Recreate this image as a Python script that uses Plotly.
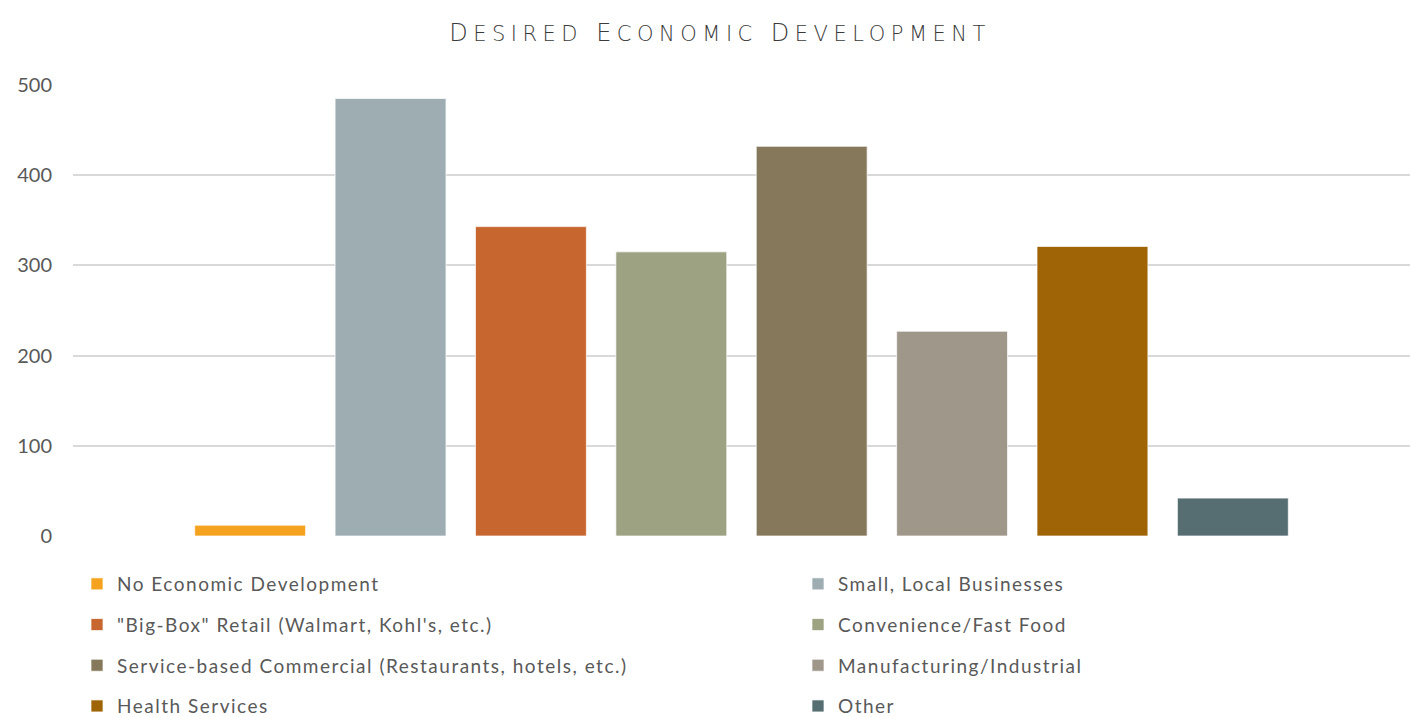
import plotly.graph_objects as go

# Survey responses: desired kinds of economic development
categories = [
    "No Economic Development",
    "Small, Local Businesses",
    "\"Big-Box\" Retail (Walmart, Kohl's, etc.)",
    "Convenience/Fast Food",
    "Service-based Commercial (Restaurants, hotels, etc.)",
    "Manufacturing/Industrial",
    "Health Services",
    "Other",
]
counts = [12, 485, 343, 315, 432, 227, 321, 42]
colors = ["#F5A31F", "#9DADB2", "#C7672F", "#9CA282", "#86785B", "#A0978B", "#9E6405", "#566D72"]

y_ticks = [0, 100, 200, 300, 400, 500]

FONT = "Lato"
GREY = "#595959"


def tracked(text, spacing):
    """Wrap text in a span with extra letter spacing."""
    return f'<span style="letter-spacing:{spacing}px">{text}</span>'


def small_caps_title(text, small):
    """Capital initials at the base size, remaining letters at `small` size."""
    words = []
    for w in text.split(" "):
        words.append(f'{w[0]}<span style="font-size:{small}px">{w[1:]}</span>')
    return " ".join(words)


fig = go.Figure()
for i, (name, val, col) in enumerate(zip(categories, counts, colors)):
    fig.add_trace(go.Bar(
        x=[""],
        y=[val],
        name=tracked(name, 1.5),
        marker=dict(color=col, line=dict(color="rgba(255,255,255,0.7)", width=1)),
        legend="legend" if i % 2 == 0 else "legend2",
        legendgroup=name,
        hovertext=name,
        hoverinfo="text+y",
    ))

legend_common = dict(
    orientation="v",
    traceorder="grouped",
    tracegroupgap=13,
    font=dict(family=FONT, size=19, color=GREY),
    bgcolor="rgba(0,0,0,0)",
    yref="container",
    yanchor="top",
    y=0.212,
    xref="container",
    xanchor="left",
    itemwidth=30,
)

title_text = "Desired Economic Development"

fig.update_layout(
    width=1416,
    height=717,
    margin=dict(l=73, r=6, t=85, b=181, autoexpand=False),
    paper_bgcolor="white",
    plot_bgcolor="white",
    barmode="group",
    bargap=0.16,
    bargroupgap=0.21,
    title=dict(
        text=tracked(small_caps_title(title_text, 21), 5.5),
        x=0.5085,
        xanchor="center",
        y=0.955,
        yanchor="middle",
        font=dict(family="DejaVu Sans", size=24, color="#3a3a3a", weight=200, textcase="upper"),
    ),
    xaxis=dict(
        showticklabels=False,
        showgrid=False,
        zeroline=False,
        showline=False,
        fixedrange=True,
    ),
    yaxis=dict(
        range=[0, 500],
        tickvals=y_ticks,
        ticktext=[str(v) for v in y_ticks],
        showgrid=True,
        gridcolor="#D9D9D9",
        gridwidth=1.5,
        zeroline=False,
        showline=False,
        ticks="",
        ticklabelstandoff=20,
        tickfont=dict(family=FONT, size=20, color=GREY),
    ),
    legend=dict(legend_common, x=77 / 1416),
    legend2=dict(legend_common, x=798 / 1416),
    showlegend=True,
)

fig.write_html("out.html")
